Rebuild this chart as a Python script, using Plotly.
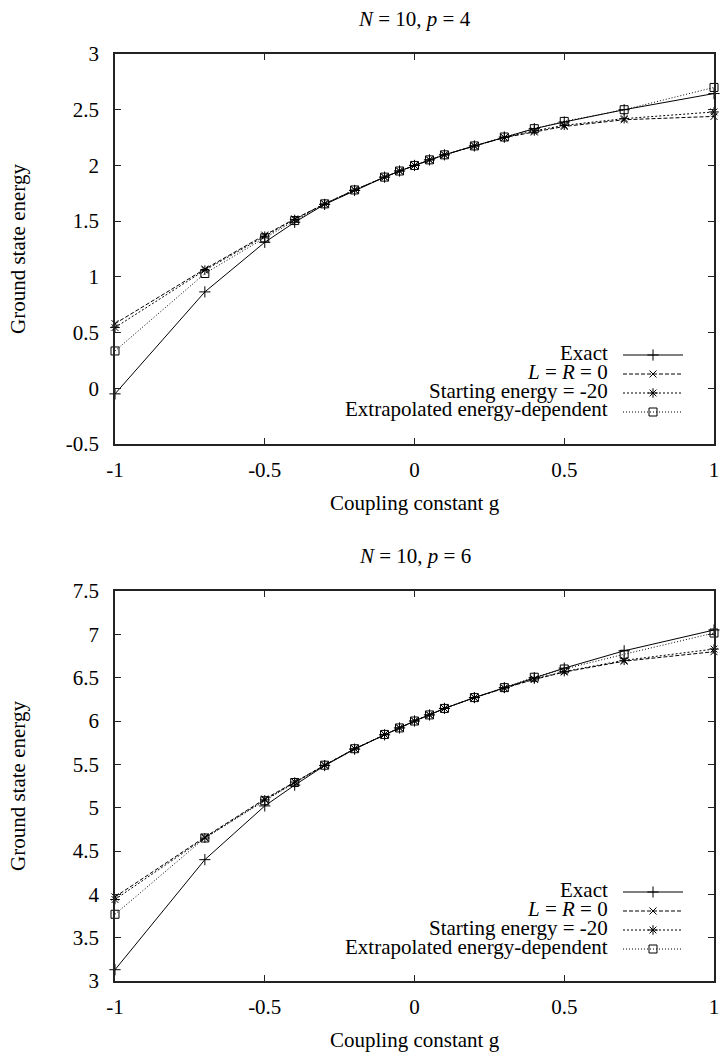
import plotly.graph_objects as go

# ---------------- data ----------------
g_values = [-1, -0.7, -0.5, -0.4, -0.3, -0.2, -0.1, -0.05, 0, 0.05, 0.1, 0.2, 0.3, 0.4, 0.5, 0.7, 1]

exact_p4 = [-0.05, 0.865, 1.31, 1.49, 1.65, 1.775, 1.895, 1.95, 2.0, 2.05, 2.095, 2.175, 2.255, 2.33, 2.39, 2.50, 2.645]
lr0_p4 = [0.58, 1.07, 1.375, 1.52, 1.655, 1.78, 1.895, 1.95, 2.0, 2.05, 2.095, 2.175, 2.25, 2.30, 2.35, 2.41, 2.44]
start_p4 = [0.545, 1.06, 1.365, 1.515, 1.655, 1.78, 1.895, 1.95, 2.0, 2.05, 2.095, 2.175, 2.25, 2.31, 2.36, 2.42, 2.48]
extrap_p4 = [0.335, 1.03, 1.35, 1.505, 1.655, 1.78, 1.895, 1.95, 2.0, 2.05, 2.095, 2.175, 2.255, 2.33, 2.395, 2.50, 2.70]

exact_p6 = [3.13, 4.40, 5.02, 5.26, 5.485, 5.675, 5.84, 5.92, 6.0, 6.07, 6.145, 6.27, 6.385, 6.50, 6.61, 6.81, 7.05]
lr0_p6 = [3.97, 4.66, 5.10, 5.30, 5.49, 5.68, 5.845, 5.92, 6.0, 6.07, 6.145, 6.27, 6.38, 6.48, 6.565, 6.69, 6.80]
start_p6 = [3.94, 4.65, 5.09, 5.295, 5.49, 5.68, 5.845, 5.92, 6.0, 6.07, 6.145, 6.27, 6.38, 6.485, 6.57, 6.70, 6.83]
extrap_p6 = [3.77, 4.65, 5.08, 5.29, 5.49, 5.68, 5.845, 5.92, 6.0, 6.07, 6.145, 6.27, 6.385, 6.505, 6.60, 6.77, 7.015]

series_names = ["Exact", "<i>L</i> = <i>R</i> = 0", "Starting energy = -20", "Extrapolated energy-dependent"]
panel_titles = ["<i>N</i> = 10, <i>p</i> = 4", "<i>N</i> = 10, <i>p</i> = 6"]
x_title = "Coupling constant g"
y_title = "Ground state energy"

x_tickvals = [-1, -0.5, 0, 0.5, 1]
x_ticktext = ["-1", "-0.5", "0", "0.5", "1"]
y_tickvals_p4 = [-0.5, 0, 0.5, 1, 1.5, 2, 2.5, 3]
y_ticktext_p4 = ["-0.5", "0", "0.5", "1", "1.5", "2", "2.5", "3"]
y_tickvals_p6 = [3, 3.5, 4, 4.5, 5, 5.5, 6, 6.5, 7, 7.5]
y_ticktext_p6 = ["3", "3.5", "4", "4.5", "5", "5.5", "6", "6.5", "7", "7.5"]

# ---------------- styles ----------------
W, H = 722, 1053
FONT = "Liberation Serif"
FS = 21
styles = [
    dict(dash="solid", symbol="cross-thin", size=8),
    dict(dash="4px,2px", symbol="x-thin", size=7),
    dict(dash="2px,2px", symbol="asterisk-open", size=8),
    dict(dash="1px,2px", symbol="square-open", size=8),
]

def py(px):
    return 1 - px / H

x_dom = [115 / W, 714 / W]
top_px = (54, 444)
bot_px = (591, 981)

fig = go.Figure()

panels = [
    (top_px, [exact_p4, lr0_p4, start_p4, extrap_p4], "x", "y", "legend"),
    (bot_px, [exact_p6, lr0_p6, start_p6, extrap_p6], "x2", "y2", "legend2"),
]

for (ptop, pbot), series, xa, ya, lg in panels:
    for name, vals, st in zip(series_names, series, styles):
        fig.add_trace(go.Scatter(
            x=g_values, y=vals, name=name, mode="lines+markers",
            xaxis=xa, yaxis=ya, legend=lg, cliponaxis=False,
            line=dict(color="black", width=1, dash=st["dash"]),
            marker=dict(symbol=st["symbol"], size=st["size"], color="black",
                        line=dict(color="black", width=1)),
        ))

axis_common = dict(
    showgrid=False, zeroline=False, showline=True, linecolor="#222", linewidth=1.5,
    mirror="ticks", ticks="inside", ticklen=6, tickwidth=1, tickcolor="#222",
    tickfont=dict(family=FONT, size=FS, color="black"),
)

fig.update_layout(
    width=W, height=H, margin=dict(l=0, r=0, t=0, b=0, autoexpand=False),
    paper_bgcolor="white", plot_bgcolor="white",
    font=dict(family=FONT, size=FS, color="black"),
    xaxis=dict(domain=x_dom, anchor="y", range=[-1, 1], tickvals=x_tickvals, ticktext=x_ticktext,
               ticklabelstandoff=6, **axis_common),
    yaxis=dict(domain=[py(top_px[1]), py(top_px[0])], anchor="x", range=[-0.5, 3],
               tickvals=y_tickvals_p4, ticktext=y_ticktext_p4, ticklabelstandoff=10, **axis_common),
    xaxis2=dict(domain=x_dom, anchor="y2", range=[-1, 1], tickvals=x_tickvals, ticktext=x_ticktext,
                ticklabelstandoff=6, **axis_common),
    yaxis2=dict(domain=[py(bot_px[1]), py(bot_px[0])], anchor="x2", range=[3, 7.5],
                tickvals=y_tickvals_p6, ticktext=y_ticktext_p6, ticklabelstandoff=10, **axis_common),
)

legend_common = dict(
    xanchor="left", yanchor="top", bgcolor="rgba(0,0,0,0)", borderwidth=0,
    font=dict(family=FONT, size=1, color="rgba(0,0,0,0)"), itemwidth=60,
    tracegroupgap=0, itemclick=False, itemdoubleclick=False,
)
ROW = 19
LEG_ROW0 = [352.5, 889.5]
fig.update_layout(
    legend=dict(x=618 / W, y=py(LEG_ROW0[0] - 12), **legend_common),
    legend2=dict(x=618 / W, y=py(LEG_ROW0[1] - 12), **legend_common),
)

annotations = []
for k, (ptop, pbot) in enumerate([top_px, bot_px]):
    annotations.append(dict(text=panel_titles[k], x=(x_dom[0] + x_dom[1]) / 2, y=py(ptop - 35),
                            xref="paper", yref="paper", showarrow=False, xanchor="center", yanchor="middle"))
    annotations.append(dict(text=x_title, x=(x_dom[0] + x_dom[1]) / 2, y=py(pbot + 59),
                            xref="paper", yref="paper", showarrow=False, xanchor="center", yanchor="middle"))
    annotations.append(dict(text=y_title, x=18 / W, y=py((ptop + pbot) / 2), textangle=-90,
                            xref="paper", yref="paper", showarrow=False, xanchor="center", yanchor="middle"))
    for i, nm in enumerate(series_names):
        annotations.append(dict(text=nm, x=610 / W, y=py(LEG_ROW0[k] + i * ROW),
                                xref="paper", yref="paper", showarrow=False, xanchor="right", yanchor="middle"))
fig.update_layout(annotations=annotations)

fig.write_html("out.html")
